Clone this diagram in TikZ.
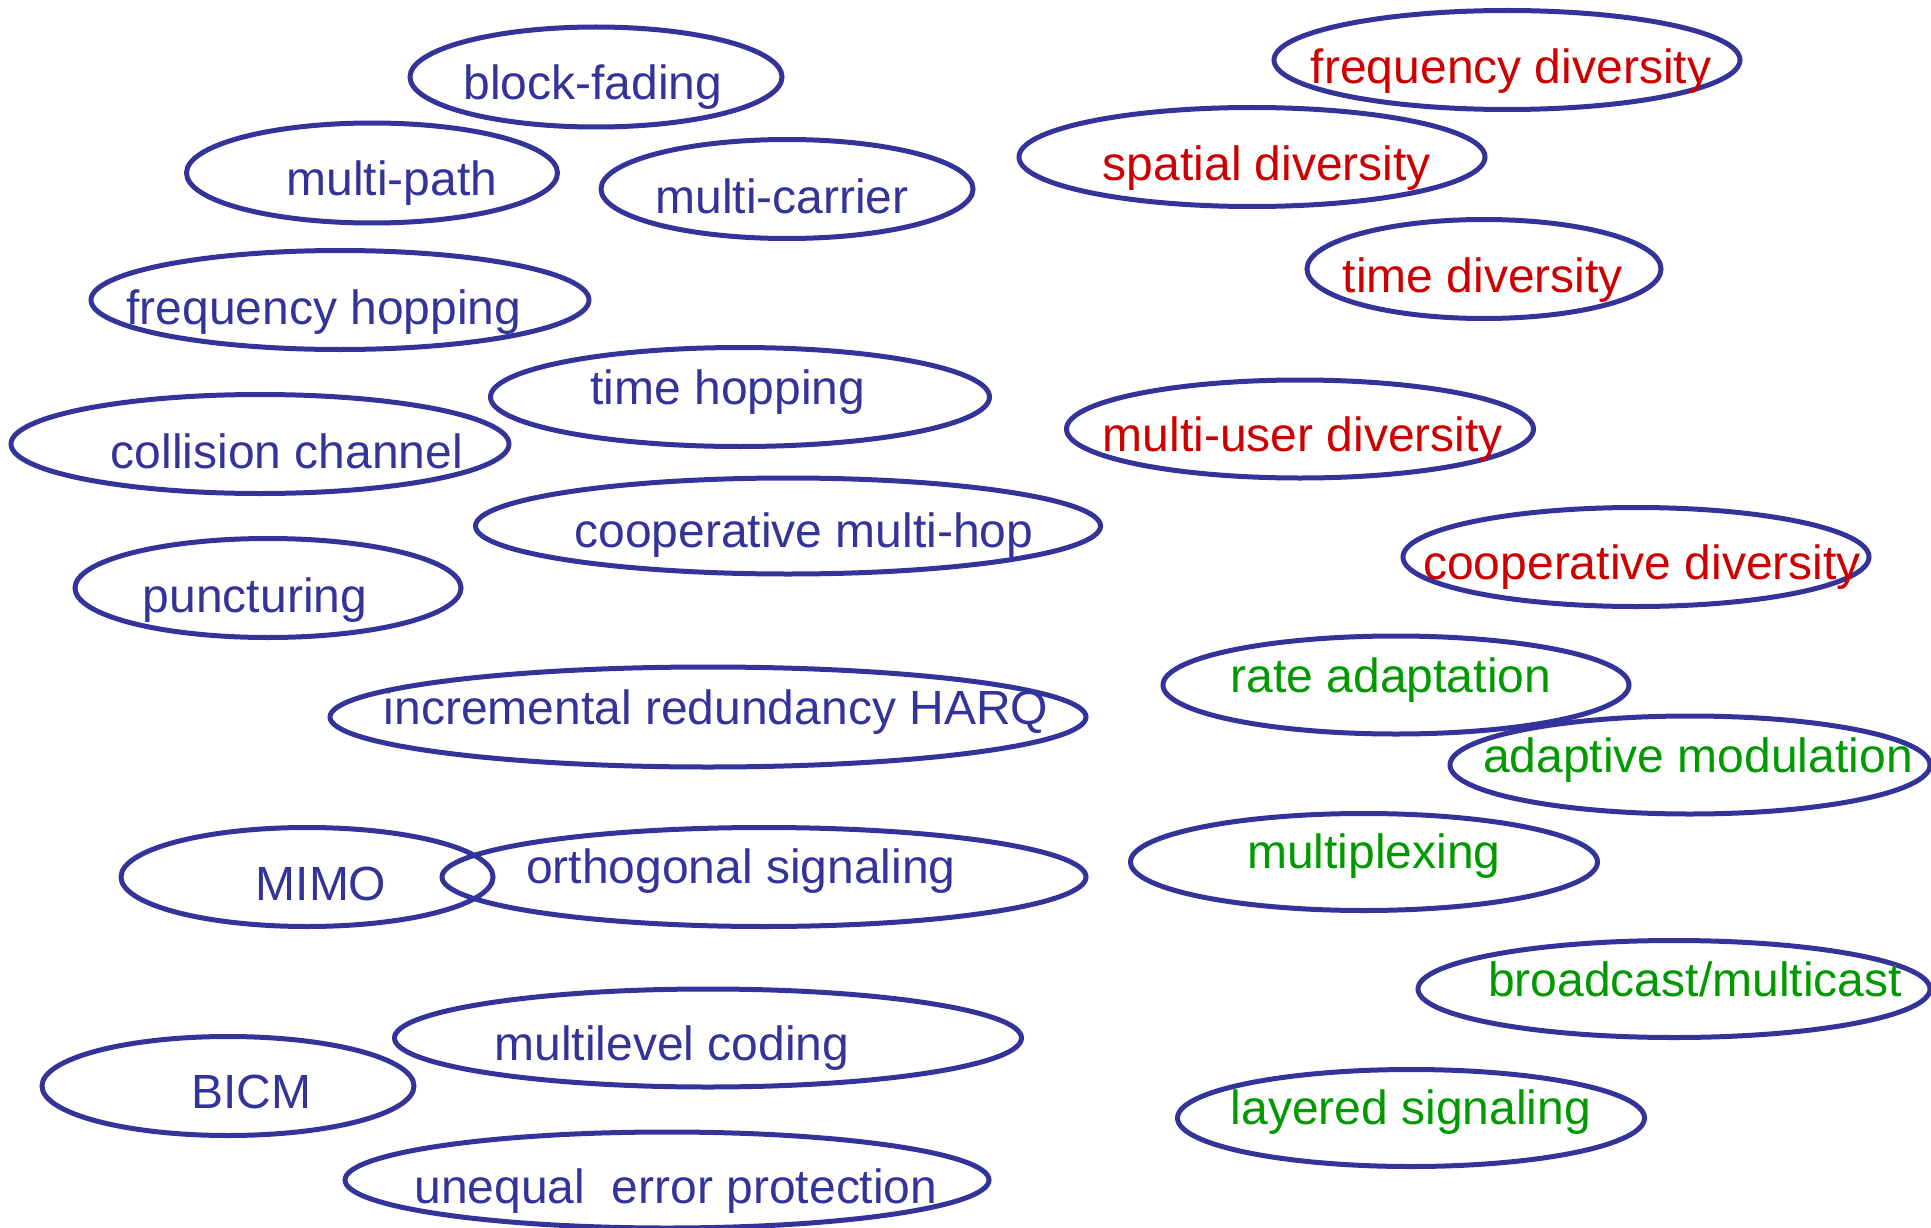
\documentclass[tikz,border=0pt]{standalone}
\usepackage{fontspec}
\setmainfont{Liberation Sans}
\usetikzlibrary{shapes.geometric}
\definecolor{ovalblue}{HTML}{333399}
\definecolor{txtred}{HTML}{CC0000}
\definecolor{txtgreen}{HTML}{009900}
\tikzset{
  oval/.style={ellipse, draw=ovalblue, line width=5pt, inner sep=0pt},
  lbl/.style={anchor=base, inner sep=0pt, font=\fontsize{48}{56}\selectfont},
  bl/.style={lbl, text=ovalblue},
  rd/.style={lbl, text=txtred},
  gr/.style={lbl, text=txtgreen}
}
\newcommand{\ov}[5]{\node[oval, minimum width=#4pt, minimum height=#5pt] (#1) at (#2,#3) {};}
\begin{document}
\begin{tikzpicture}[x=1pt,y=-1pt]
\useasboundingbox (0,0) rectangle (1931,1228);
% left, blue
\ov{e1}{596}{77}{372}{100}
\node[bl] (t1) at (593,100) {block-fading};
\ov{e2}{372}{173}{371}{100}
\node[bl] (t2) at (392,196) {multi-path};
\ov{e3}{787}{189}{372}{99}
\node[bl] (t3) at (782,213) {multi-carrier};
\ov{e4}{340}{300}{498}{99}
\node[bl] (t4) at (324,324) {frequency hopping};
\ov{e5}{740}{397}{499}{99}
\node[bl] (t5) at (728,404) {time hopping};
\ov{e6}{260}{444}{498}{99}
\node[bl] (t6) at (287,468) {collision channel};
\ov{e7}{788}{526}{625}{96}
\node[bl] (t7) at (804,547) {cooperative multi-hop};
\ov{e8}{268}{588}{386}{99}
\node[bl] (t8) at (255,612) {puncturing};
\ov{e9}{708}{717}{756}{100}
\node[bl] (t9) at (716,724) {incremental redundancy HARQ};
\ov{e10}{307}{877}{372}{99}
\node[bl] (t10) at (321,900) {MIMO};
\ov{e11}{764}{877}{644}{99}
\node[bl] (t11) at (741,883) {orthogonal signaling};
\ov{e12}{708}{1038}{627}{98}
\node[bl] (t12) at (672,1060) {multilevel coding};
\ov{e13}{228}{1086}{372}{99}
\node[bl] (t13) at (251,1108) {BICM};
\ov{e14}{667}{1180}{644}{96}
\node[bl] (t14) at (676,1203) {unequal\ \ error protection};
% right, red
\ov{e15}{1507}{60}{466}{99}
\node[rd] (t15) at (1511,84) {frequency diversity};
\ov{e16}{1252}{157}{466}{99}
\node[rd] (t16) at (1267,180) {spatial diversity};
\ov{e17}{1484}{269}{354}{99}
\node[rd] (t17) at (1483,292) {time diversity};
\ov{e18}{1300}{429}{467}{98}
\node[rd] (t18) at (1303,451) {multi-user diversity};
\ov{e19}{1636}{557}{466}{99}
\node[rd] (t19) at (1642,579) {cooperative diversity};
% right, green
\ov{e20}{1396}{685}{466}{98}
\node[gr] (t20) at (1391,692) {rate adaptation};
\ov{e21}{1690}{765}{480}{98}
\node[gr] (t21) at (1698,772) {adaptive modulation};
\ov{e22}{1364}{862}{467}{97}
\node[gr] (t22) at (1374,868) {multiplexing};
\ov{e23}{1674}{989}{512}{97}
\node[gr] (t23) at (1695,996) {broadcast/multicast};
\ov{e24}{1411}{1118}{467}{97}
\node[gr] (t24) at (1411,1124) {layered signaling};
\end{tikzpicture}
\end{document}
